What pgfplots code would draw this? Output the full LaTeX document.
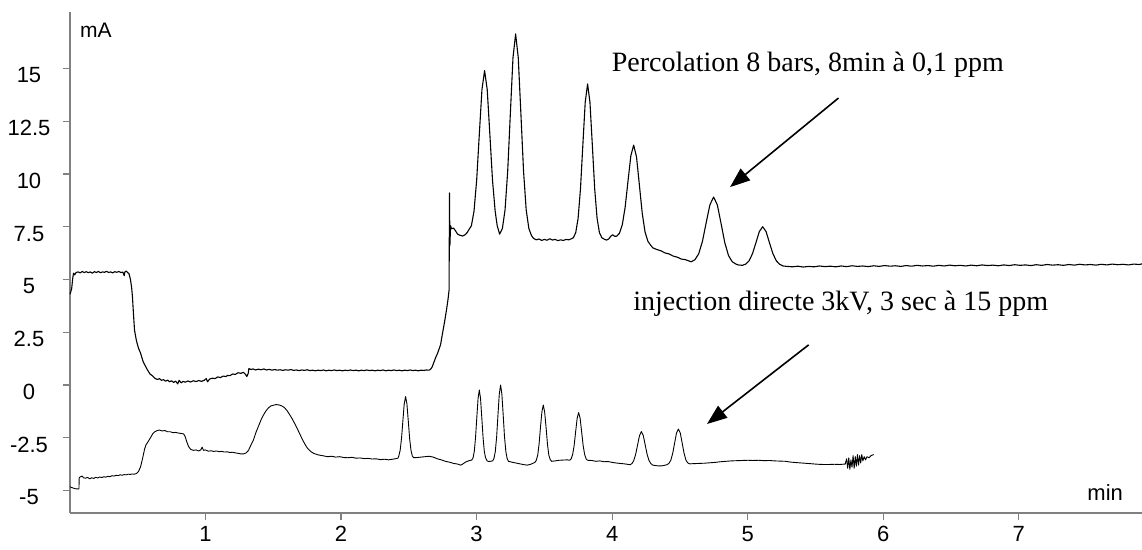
\documentclass[border=0pt]{standalone}
\usepackage{pgfplots}
\pgfplotsset{compat=1.18}
\usepackage{fontspec}
\setmainfont{Liberation Sans}
\newfontfamily\timesfont{Liberation Serif}
\usetikzlibrary{arrows.meta}

\begin{document}
\begin{tikzpicture}
\begin{axis}[
  at={(0pt,0pt)}, anchor=south west,
  scale only axis, width=1072pt, height=501pt,
  xmin=0, xmax=7.91, ymin=-6.07, ymax=17.68,
  axis lines=left,
  axis line style={-, draw=gray, line width=1.6pt},
  xtick={1,2,3,4,5,6,7},
  xticklabels={1,2,3,4,5,6,7},
  ytick={-5,-2.5,0,2.5,5,7.5,10,12.5,15},
  yticklabels={-5,-2.5,0,2.5,5,7.5,10,12.5,15},
  tick align=outside, major tick length=7pt,
  tick style={draw=gray, line width=1.2pt},
  ticklabel style={font=\fontsize{22}{22}\selectfont},
  yticklabel style={anchor=center, xshift=-34pt, yshift=-7pt},
  xticklabel style={yshift=-3pt},
  clip=false,
]
% Percolation 8 bars, 8 min a 0,1 ppm
\addplot[black, line width=1.1pt, line join=round] coordinates {
(0.000,4.30) (0.012,4.55) (0.020,5.05) (0.026,5.30) (0.035,5.22) (0.045,5.33)
(0.060,5.36) (0.075,5.31) (0.090,5.38) (0.105,5.33) (0.120,5.37) (0.135,5.32)
(0.150,5.36) (0.165,5.30) (0.180,5.37) (0.195,5.33) (0.210,5.38) (0.225,5.32)
(0.240,5.36) (0.255,5.34) (0.270,5.39) (0.285,5.33) (0.300,5.36) (0.315,5.31)
(0.330,5.37) (0.345,5.34) (0.360,5.38) (0.375,5.33) (0.390,5.35) (0.400,5.18)
(0.405,5.36) (0.415,5.40) (0.425,5.33) (0.435,5.28) (0.446,5.00) (0.455,4.60)
(0.461,4.17) (0.468,3.40) (0.476,2.60) (0.490,2.10) (0.505,1.75) (0.520,1.52)
(0.540,1.10) (0.560,0.85) (0.572,0.71) (0.590,0.52) (0.605,0.45) (0.616,0.38)
(0.630,0.30) (0.645,0.26) (0.660,0.30) (0.675,0.22) (0.690,0.25) (0.705,0.18)
(0.720,0.23) (0.735,0.15) (0.750,0.20) (0.764,0.12) (0.780,0.18) (0.795,0.05)
(0.805,0.22) (0.820,0.10) (0.835,0.17) (0.850,0.13) (0.870,0.19) (0.890,0.14)
(0.910,0.20) (0.930,0.16) (0.950,0.21) (0.970,0.17) (0.990,0.22) (1.005,0.30)
(1.015,0.15) (1.030,0.28) (1.050,0.32) (1.070,0.30) (1.090,0.38) (1.110,0.35)
(1.130,0.42) (1.150,0.40) (1.162,0.45) (1.180,0.44) (1.200,0.52) (1.220,0.50)
(1.240,0.58) (1.260,0.55) (1.280,0.60) (1.295,0.50) (1.305,0.40) (1.315,0.55)
(1.320,0.78) (1.335,0.73) (1.350,0.76) (1.370,0.71) (1.390,0.75) (1.410,0.72)
(1.430,0.76) (1.450,0.71) (1.470,0.74) (1.490,0.70) (1.510,0.73) (1.530,0.70)
(1.550,0.72) (1.570,0.69) (1.590,0.72) (1.610,0.70) (1.630,0.73) (1.650,0.69)
(1.670,0.71) (1.690,0.68) (1.710,0.71) (1.730,0.69) (1.750,0.72) (1.770,0.68)
(1.790,0.70) (1.810,0.67) (1.830,0.70) (1.850,0.68) (1.870,0.71) (1.890,0.67)
(1.910,0.70) (1.930,0.68) (1.950,0.71) (1.970,0.68) (1.990,0.70) (2.010,0.67)
(2.030,0.70) (2.050,0.68) (2.070,0.71) (2.090,0.68) (2.110,0.70) (2.130,0.67)
(2.150,0.70) (2.170,0.68) (2.190,0.71) (2.210,0.68) (2.230,0.70) (2.250,0.67)
(2.270,0.70) (2.290,0.68) (2.310,0.71) (2.330,0.67) (2.350,0.70) (2.370,0.68)
(2.390,0.71) (2.410,0.68) (2.430,0.70) (2.450,0.67) (2.470,0.70) (2.490,0.68)
(2.510,0.71) (2.530,0.68) (2.550,0.70) (2.570,0.67) (2.590,0.70) (2.610,0.69)
(2.630,0.71) (2.650,0.70) (2.661,0.75) (2.672,0.85) (2.683,1.04) (2.698,1.30)
(2.712,1.50) (2.734,1.90) (2.750,2.50) (2.764,3.00) (2.779,3.60) (2.790,4.10)
(2.797,4.50) (2.800,9.10) (2.803,6.60) (2.808,7.55) (2.815,7.40) (2.830,7.44)
(2.845,7.30) (2.860,7.15) (2.875,7.10) (2.897,7.06) (2.915,7.12) (2.930,7.22)
(2.945,7.38) (2.9615,7.54) (2.981,8.24) (3.0005,9.70) (3.020,11.87) (3.0395,14.00)
(3.059,14.90) (3.0785,14.00) (3.098,11.87) (3.1175,9.70) (3.137,8.24) (3.152,7.55)
(3.170,7.15) (3.1905,7.42) (3.210,8.30) (3.2295,10.13) (3.249,12.85) (3.2685,15.51)
(3.288,16.64) (3.3075,15.51) (3.327,12.85) (3.3465,10.13) (3.366,8.30) (3.3855,7.42)
(3.405,7.08) (3.420,6.95) (3.440,6.88) (3.460,6.92) (3.480,6.85) (3.500,6.90)
(3.520,6.86) (3.540,6.93) (3.560,6.87) (3.580,6.90) (3.600,6.84) (3.620,6.88)
(3.640,6.85) (3.660,6.90) (3.680,6.88) (3.700,6.93) (3.714,6.98) (3.7315,7.22)
(3.749,7.90) (3.7665,9.29) (3.784,11.37) (3.8015,13.40) (3.819,14.27) (3.8365,13.40)
(3.854,11.37) (3.8715,9.29) (3.889,7.90) (3.9065,7.22) (3.924,6.98) (3.945,6.90)
(3.959,6.87) (3.975,6.92) (3.990,7.05) (4.004,7.12) (4.018,7.05) (4.033,7.05)
(4.054,7.19) (4.075,7.59) (4.096,8.42) (4.117,9.65) (4.138,10.86) (4.159,11.37)
(4.180,10.81) (4.201,9.49) (4.222,8.15) (4.243,7.25) (4.264,6.81) (4.285,6.62)
(4.300,6.50) (4.330,6.42) (4.360,6.36) (4.390,6.26) (4.420,6.21) (4.450,6.11)
(4.480,6.06) (4.510,5.97) (4.540,5.94) (4.570,5.87) (4.584,5.84) (4.6115,5.94)
(4.639,6.22) (4.6665,6.81) (4.694,7.69) (4.7215,8.54) (4.749,8.91) (4.7765,8.53)
(4.804,7.65) (4.8315,6.74) (4.859,6.13) (4.8865,5.84) (4.914,5.73) (4.930,5.69)
(4.961,5.67) (4.986,5.73) (5.011,5.89) (5.036,6.23) (5.061,6.74) (5.086,7.27)
(5.111,7.50) (5.136,7.27) (5.161,6.74) (5.186,6.23) (5.211,5.89) (5.236,5.72)
(5.261,5.64) (5.290,5.62) (5.330,5.60) (5.370,5.63) (5.410,5.59) (5.450,5.62)
(5.490,5.60) (5.530,5.64) (5.570,5.61) (5.610,5.63) (5.650,5.60) (5.690,5.64)
(5.730,5.61) (5.770,5.65) (5.810,5.62) (5.850,5.64) (5.890,5.61) (5.930,5.65)
(5.970,5.62) (6.010,5.66) (6.050,5.63) (6.090,5.65) (6.130,5.62) (6.170,5.66)
(6.210,5.63) (6.250,5.67) (6.290,5.64) (6.330,5.66) (6.370,5.63) (6.410,5.67)
(6.450,5.64) (6.490,5.68) (6.530,5.65) (6.570,5.67) (6.610,5.64) (6.650,5.68)
(6.690,5.65) (6.730,5.69) (6.770,5.66) (6.810,5.68) (6.850,5.65) (6.890,5.69)
(6.930,5.66) (6.970,5.70) (7.010,5.67) (7.050,5.69) (7.090,5.66) (7.130,5.70)
(7.170,5.67) (7.210,5.71) (7.250,5.68) (7.290,5.70) (7.330,5.67) (7.370,5.71)
(7.410,5.68) (7.450,5.72) (7.490,5.69) (7.530,5.71) (7.570,5.68) (7.610,5.72)
(7.650,5.69) (7.690,5.73) (7.730,5.70) (7.770,5.72) (7.810,5.69) (7.850,5.73)
(7.890,5.71) (7.910,5.74)
};
% injection directe 3kV, 3 sec a 15 ppm
\addplot[black, line width=0.9pt, line join=round] coordinates {
(0.000,-4.83) (0.020,-4.88) (0.040,-4.92) (0.060,-4.93) (0.066,-4.93) (0.068,-4.40)
(0.075,-4.36) (0.090,-4.32) (0.100,-4.40) (0.115,-4.42) (0.130,-4.38) (0.145,-4.45)
(0.160,-4.40) (0.175,-4.43) (0.190,-4.38) (0.205,-4.41) (0.220,-4.36) (0.235,-4.39)
(0.250,-4.35) (0.265,-4.37) (0.280,-4.33) (0.295,-4.35) (0.310,-4.30) (0.325,-4.32)
(0.340,-4.28) (0.355,-4.30) (0.370,-4.26) (0.385,-4.28) (0.400,-4.25) (0.415,-4.26)
(0.430,-4.23) (0.445,-4.24) (0.460,-4.22) (0.475,-4.23) (0.490,-4.20) (0.505,-4.10)
(0.520,-3.90) (0.535,-3.50) (0.550,-3.05) (0.560,-2.85) (0.570,-2.75) (0.580,-2.65)
(0.594,-2.50) (0.610,-2.32) (0.625,-2.22) (0.644,-2.16) (0.660,-2.14) (0.680,-2.18)
(0.700,-2.16) (0.720,-2.22) (0.740,-2.22) (0.760,-2.26) (0.780,-2.25) (0.800,-2.28)
(0.820,-2.30) (0.838,-2.32) (0.850,-2.45) (0.862,-2.70) (0.875,-2.92) (0.890,-3.05)
(0.910,-3.10) (0.930,-3.08) (0.950,-3.13) (0.965,-3.08) (0.975,-2.95) (0.985,-3.10)
(1.000,-3.08) (1.020,-3.14) (1.040,-3.12) (1.060,-3.15) (1.080,-3.13) (1.100,-3.16)
(1.120,-3.15) (1.140,-3.18) (1.160,-3.17) (1.180,-3.20) (1.200,-3.19) (1.220,-3.22)
(1.240,-3.24) (1.260,-3.27) (1.280,-3.27) (1.300,-3.22) (1.317,-3.10) (1.335,-2.85)
(1.354,-2.60) (1.372,-2.25) (1.391,-1.95) (1.410,-1.65) (1.428,-1.42) (1.447,-1.22)
(1.465,-1.08) (1.484,-0.99) (1.502,-0.96) (1.520,-0.93) (1.544,-0.95) (1.565,-1.00)
(1.583,-1.08) (1.602,-1.22) (1.620,-1.40) (1.639,-1.60) (1.657,-1.82) (1.675,-2.05)
(1.694,-2.30) (1.712,-2.55) (1.731,-2.78) (1.750,-2.98) (1.775,-3.15) (1.800,-3.25)
(1.834,-3.32) (1.870,-3.36) (1.900,-3.40) (1.930,-3.38) (1.960,-3.42) (1.990,-3.40)
(2.020,-3.44) (2.050,-3.45) (2.080,-3.43) (2.110,-3.47) (2.140,-3.46) (2.170,-3.49)
(2.200,-3.48) (2.230,-3.51) (2.260,-3.50) (2.290,-3.54) (2.320,-3.52) (2.350,-3.55)
(2.380,-3.52) (2.400,-3.50) (2.420,-3.47) (2.426,-3.37) (2.436,-3.10) (2.446,-2.54)
(2.456,-1.71) (2.466,-0.90) (2.476,-0.55) (2.486,-0.90) (2.496,-1.71) (2.506,-2.54)
(2.516,-3.10) (2.526,-3.37) (2.536,-3.45) (2.560,-3.44) (2.590,-3.42) (2.620,-3.40)
(2.650,-3.38) (2.680,-3.42) (2.710,-3.50) (2.740,-3.55) (2.770,-3.62) (2.800,-3.66)
(2.830,-3.72) (2.860,-3.75) (2.882,-3.80) (2.900,-3.74) (2.920,-3.65) (2.940,-3.60)
(2.956,-3.57) (2.9645,-3.56) (2.974,-3.45) (2.983,-3.15) (2.992,-2.51) (3.0015,-1.56)
(3.011,-0.63) (3.020,-0.24) (3.029,-0.63) (3.0385,-1.56) (3.048,-2.51) (3.057,-3.15)
(3.066,-3.45) (3.078,-3.60) (3.089,-3.63) (3.100,-3.62) (3.1185,-3.60) (3.128,-3.49)
(3.138,-3.16) (3.148,-2.46) (3.1575,-1.44) (3.1675,-0.43) (3.177,0.00) (3.1865,-0.43)
(3.1965,-1.44) (3.206,-2.46) (3.216,-3.16) (3.2255,-3.49) (3.235,-3.62) (3.260,-3.66)
(3.290,-3.70) (3.320,-3.74) (3.350,-3.78) (3.374,-3.80) (3.400,-3.76) (3.420,-3.70)
(3.430,-3.67) (3.440,-3.58) (3.451,-3.33) (3.461,-2.81) (3.471,-2.03) (3.482,-1.27)
(3.492,-0.95) (3.502,-1.27) (3.513,-2.03) (3.523,-2.81) (3.533,-3.33) (3.544,-3.55)
(3.554,-3.62) (3.580,-3.60) (3.610,-3.57) (3.640,-3.56) (3.669,-3.55) (3.687,-3.57)
(3.698,-3.50) (3.709,-3.29) (3.720,-2.86) (3.731,-2.21) (3.742,-1.58) (3.753,-1.31)
(3.764,-1.58) (3.775,-2.21) (3.786,-2.86) (3.797,-3.29) (3.808,-3.50) (3.819,-3.57)
(3.850,-3.58) (3.880,-3.62) (3.910,-3.60) (3.940,-3.64) (3.970,-3.63) (4.000,-3.67)
(4.030,-3.70) (4.060,-3.72) (4.090,-3.74) (4.112,-3.76) (4.132,-3.78) (4.146,-3.73)
(4.160,-3.58) (4.174,-3.28) (4.188,-2.84) (4.202,-2.40) (4.216,-2.21) (4.230,-2.40)
(4.244,-2.84) (4.258,-3.28) (4.272,-3.58) (4.286,-3.73) (4.300,-3.80) (4.330,-3.83)
(4.358,-3.84) (4.380,-3.82) (4.405,-3.78) (4.419,-3.72) (4.433,-3.57) (4.447,-3.24)
(4.461,-2.76) (4.475,-2.28) (4.489,-2.09) (4.503,-2.28) (4.517,-2.76) (4.531,-3.24)
(4.545,-3.57) (4.559,-3.70) (4.573,-3.74) (4.600,-3.73) (4.640,-3.72) (4.680,-3.71)
(4.720,-3.69) (4.760,-3.67) (4.800,-3.64) (4.840,-3.62) (4.880,-3.60) (4.920,-3.59)
(4.960,-3.58) (5.000,-3.57) (5.040,-3.58) (5.080,-3.57) (5.120,-3.59) (5.160,-3.58)
(5.200,-3.60) (5.240,-3.61) (5.280,-3.62) (5.320,-3.66) (5.360,-3.68) (5.400,-3.70)
(5.440,-3.72) (5.480,-3.74) (5.520,-3.76) (5.560,-3.77) (5.600,-3.77) (5.640,-3.76)
(5.680,-3.77) (5.720,-3.75) (5.730,-3.50) (5.738,-3.95) (5.746,-3.45) (5.754,-4.00)
(5.762,-3.55) (5.770,-3.90) (5.778,-3.35) (5.786,-3.95) (5.794,-3.40) (5.802,-3.85)
(5.810,-3.30) (5.818,-3.80) (5.826,-3.35) (5.834,-3.70) (5.842,-3.30) (5.850,-3.60)
(5.860,-3.40) (5.870,-3.55) (5.880,-3.40) (5.895,-3.45) (5.910,-3.35) (5.930,-3.30)
};
\node[anchor=base west, inner sep=0pt, font=\fontsize{21}{21}\selectfont] at (axis cs:0.074,16.49) {mA};
\node[anchor=base west, inner sep=0pt, font=\fontsize{22}{22}\selectfont] at (axis cs:7.506,-5.50) {min};
\node[anchor=base west, inner sep=0pt, font=\timesfont\fontsize{28}{28}\selectfont] at (axis cs:3.997,14.86) {Percolation 8 bars, 8min à 0,1 ppm};
\node[anchor=base west, inner sep=0pt, font=\timesfont\fontsize{28}{28}\selectfont] at (axis cs:4.155,3.55) {injection directe 3kV, 3 sec à 15 ppm};
\draw[line width=1.6pt, -{Triangle[length=20pt,width=15pt]}] (axis cs:5.67,13.6) -- (axis cs:4.87,9.38);
\draw[line width=1.6pt, -{Triangle[length=20pt,width=15pt]}] (axis cs:5.45,1.90) -- (axis cs:4.70,-1.85);
\end{axis}
\pgfresetboundingbox
\path (-70pt,-36pt) rectangle (1072pt,513pt);
\end{tikzpicture}
\end{document}
